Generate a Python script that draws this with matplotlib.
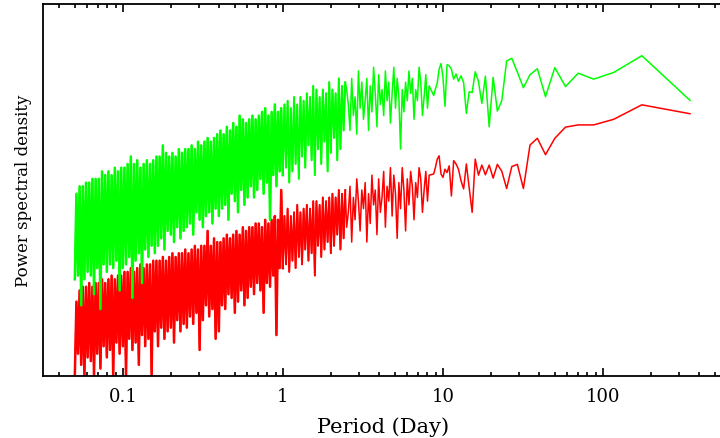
import numpy as np
import matplotlib
matplotlib.use("Agg")
import matplotlib.pyplot as plt
from matplotlib.ticker import LogLocator, FixedLocator, FixedFormatter

# record length (days); the first 40 harmonics are drawn one by one
record_days = 350.0
harmonics = np.arange(1, 41)

# relative log power (0 = bottom of frame, 100 = top)
green_sparse = [74.1, 86.1, 81.6, 79.8, 81.4, 77.8, 82.9, 75.1, 82.6, 81.0,
                77.5, 81.7, 85.4, 84.7, 74.1, 71.2, 80.3, 67.0, 80.6, 73.3,
                79.2, 81.8, 76.2, 76.4, 70.6, 78.9, 80.7, 79.2, 81.2, 79.8,
                82.5, 83.4, 83.7, 72.5, 80.3, 84.0, 82.5, 78.8, 77.2, 75.4]
red_sparse = [70.5, 72.9, 69.0, 67.5, 67.5, 66.9, 63.9, 59.5, 63.9, 62.1,
              50.4, 56.9, 56.3, 50.4, 55.0, 56.9, 53.2, 56.7, 54.1, 56.7,
              54.0, 58.3, 44.0, 50.7, 57.0, 50.3, 52.5, 55.6, 57.0, 57.9,
              48.4, 56.5, 54.7, 55.6, 53.4, 54.3, 59.2, 58.3, 56.1, 54.3]

# 8.2 d down to 2.5 d: individual wiggles
green_mid = [78, 72, 81, 75, 70, 79, 83, 74, 77, 69,
             80, 76, 82, 74, 79, 71, 77, 61, 75, 80,
             72, 83, 76, 68, 79, 74, 82, 70, 77, 73,
             81, 67, 76, 83, 71, 78, 66, 80, 74, 69,
             79, 72, 82, 65, 75, 70, 80, 66, 73, 77]
red_mid = [54, 47, 55, 50, 44, 53, 56, 48, 52, 42,
           51, 55, 46, 53, 39, 50, 56, 45, 52, 37,
           49, 54, 43, 56, 47, 51, 40, 55, 48, 44,
           53, 38, 50, 46, 54, 41, 49, 36, 52, 45,
           50, 39, 47, 53, 42, 48, 36, 51, 44, 40]

# 2.5 d down to 0.05 d: a dense band, given as high / low readings in pairs
green_hi = [79, 78, 80, 76, 77, 79, 76, 77, 75, 77,
            78, 75, 76, 74, 75, 73, 75, 72, 74, 73,
            72, 71, 73, 71, 70, 72, 71, 70, 69, 70,
            69, 68, 69, 70, 67, 68, 66, 67, 65, 66,
            65, 64, 63, 64, 63, 62, 63, 61, 62, 61,
            61, 60, 61, 59, 60, 59, 60, 62, 59, 59,
            58, 57, 58, 57, 56, 58, 57, 59, 57, 56,
            56, 55, 56, 54, 55, 54, 55, 53, 53, 53,
            52, 52, 51, 51, 49]
green_lo = [66, 61, 58, 64, 60, 55, 63, 57, 61, 54,
            58, 62, 56, 59, 53, 57, 55, 52, 56, 54,
            55, 51, 54, 42, 52, 49, 53, 50, 48, 51,
            48, 46, 50, 44, 47, 49, 42, 46, 45, 43,
            45, 41, 44, 43, 40, 42, 44, 38, 41, 40,
            39, 37, 40, 36, 38, 39, 34, 37, 35, 33,
            35, 32, 34, 25, 33, 31, 21, 32, 30, 29,
            23, 31, 29, 30, 28, 30, 18, 29, 22, 27,
            28, 26, 19, 27, 26]
red_hi = [50, 49, 50, 48, 49, 48, 47, 48, 46, 47,
          47, 45, 46, 45, 44, 46, 44, 43, 45, 43,
          50, 42, 43, 42, 41, 42, 40, 41, 41, 40,
          40, 39, 40, 38, 39, 38, 37, 38, 37, 36,
          36, 37, 35, 39, 35, 35, 34, 35, 34, 33,
          34, 33, 33, 32, 33, 32, 31, 32, 31, 31,
          31, 30, 30, 29, 30, 29, 28, 29, 28, 28,
          27, 27, 26, 27, 26, 25, 26, 25, 25, 24,
          25, 24, 24, 23, 20]
red_lo = [37, 34, 38, 35, 33, 36, 34, 32, 35, 27,
          33, 31, 34, 30, 32, 29, 31, 28, 30, 29,
          29, 11, 27, 24, 25, 17, 23, 25, 22, 24,
          21, 19, 23, 20, 17, 21, 22, 18, 19, 12,
          10, 18, 16, 19, 15, 7, 17, 14, 16, 13,
          14, 12, 15, 9, 13, 12, 10, 13, 8, 12,
          0, 10, 8, 11, 3, 9, 7, 10, 0, 8,
          6, 9, 0, 7, 5, 8, 2, 6, 0, 4,
          5, 0, 3, 6, 0]

tick_values = [0.1, 1, 10, 100]
tick_labels = ["0.1", "1", "10", "100"]


def build_series(sparse, mid, hi, lo):
    band = np.column_stack([hi, lo]).ravel()
    band_period = np.geomspace(2.45, 0.05, len(band))
    period = np.concatenate([record_days / harmonics,
                             np.geomspace(8.2, 2.5, len(mid)), band_period])
    power = np.concatenate([sparse, mid, band])
    return period, power, band_period, band


plt.rcParams['font.family'] = ['DejaVu Serif']

fig = plt.figure(figsize=(7.2, 4.39), dpi=100)
ax = fig.add_axes([0.0597, 0.1412, 0.9444, 0.8474])

# red first, green on top of it; the short-period band is drawn heavier
for series, color in [((red_sparse, red_mid, red_hi, red_lo), "#ff0000"),
                      ((green_sparse, green_mid, green_hi, green_lo), "#00ff00")]:
    p, v, bp, bv = build_series(*series)
    ax.plot(p, v, color=color, lw=1.1)
    loose = bp >= 0.98
    ax.plot(bp[loose], bv[loose], color=color, lw=1.4)
    ax.plot(bp[bp <= 1.0], bv[bp <= 1.0], color=color, lw=1.8)

ax.set_xscale("log")
ax.set_xlim(10 ** -1.5, 10 ** 2.75)
ax.set_ylim(0, 100)

ax.xaxis.set_major_locator(FixedLocator(tick_values))
ax.xaxis.set_major_formatter(FixedFormatter(tick_labels))
ax.xaxis.set_minor_locator(LogLocator(base=10, subs=np.arange(2, 10)))
ax.xaxis.set_minor_formatter(plt.NullFormatter())
ax.set_yticks([])
ax.tick_params(axis="x", which="both", direction="in", top=True, bottom=True,
               width=1.2, labelsize=13, pad=8)
ax.tick_params(axis="x", which="major", length=6)
ax.tick_params(axis="x", which="minor", length=3)
for s in ax.spines.values():
    s.set_linewidth(1.3)

ax.set_xlabel("Period (Day)", fontsize=15, labelpad=8)
ax.set_ylabel("Power spectral density", fontsize=12, labelpad=8)

fig.savefig("out.png", dpi=100)
